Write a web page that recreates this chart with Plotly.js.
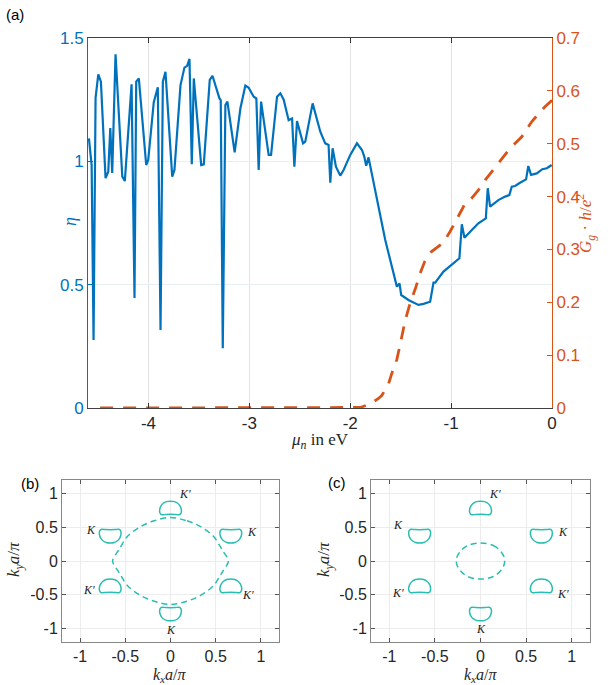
<!DOCTYPE html>
<html>
<head>
<meta charset="utf-8">
<script src="https://cdn.plot.ly/plotly-3.0.1.min.js"></script>
<style>html,body{margin:0;padding:0;background:#fff;}#chart{width:608px;height:685px;}</style>
</head>
<body>
<div id="chart"></div>
<script>
// ---- Panel (a): eta (left axis) ----
const muEta = [-4.591,-4.564,-4.545,-4.525,-4.498,-4.472,-4.426,-4.399,-4.379,-4.360,-4.327,-4.260,-4.235,-4.168,-4.139,-4.122,-4.096,-4.023,-4.003,-3.948,-3.908,-3.881,-3.858,-3.832,-3.765,-3.743,-3.683,-3.644,-3.617,-3.594,-3.571,-3.551,-3.478,-3.452,-3.393,-3.366,-3.297,-3.284,-3.264,-3.238,-3.218,-3.146,-3.089,-3.040,-3.007,-2.957,-2.931,-2.908,-2.884,-2.809,-2.785,-2.726,-2.693,-2.660,-2.611,-2.577,-2.554,-2.528,-2.468,-2.446,-2.373,-2.297,-2.248,-2.215,-2.198,-2.175,-2.142,-2.099,-2.066,-2.000,-1.934,-1.884,-1.861,-1.842,-1.819,-1.779,-1.720,-1.653,-1.604,-1.538,-1.512,-1.495,-1.423,-1.324,-1.274,-1.208,-1.175,-1.158,-1.076,-0.993,-0.918,-0.894,-0.868,-0.795,-0.730,-0.656,-0.637,-0.614,-0.532,-0.465,-0.423,-0.399,-0.366,-0.317,-0.257,-0.235,-0.208,-0.151,-0.096,-0.052,-0.003];
const eta = [1.093,0.985,0.276,1.257,1.353,1.323,0.932,0.958,1.135,0.953,1.434,0.938,0.920,1.312,0.446,1.323,1.336,0.985,1.005,1.240,1.300,0.316,1.323,1.363,0.938,0.965,1.309,1.380,1.387,1.415,0.988,1.336,0.985,0.988,1.330,1.347,1.255,1.248,0.242,1.228,1.242,1.036,1.215,1.307,1.298,1.262,1.255,0.965,1.242,1.026,1.026,1.262,1.276,1.250,1.167,1.174,0.978,1.163,1.073,1.080,1.235,1.120,1.073,1.066,0.913,1.053,0.978,0.942,0.965,1.026,1.073,1.046,1.019,0.982,1.016,0.931,0.816,0.681,0.600,0.492,0.505,0.458,0.438,0.418,0.422,0.431,0.508,0.508,0.553,0.580,0.607,0.745,0.690,0.722,0.749,0.769,0.891,0.816,0.843,0.857,0.863,0.897,0.900,0.913,0.927,0.981,0.945,0.951,0.968,0.972,0.985];

// ---- Panel (a): G_g h/e^2 (right axis) ----
const muG = [-4.48,-3.5,-2.5,-1.90,-1.80,-1.72,-1.686,-1.62,-1.587,-1.538,-1.50,-1.455,-1.406,-1.356,-1.307,-1.26,-1.20,-1.12,-1.076,-1.01,-0.944,-0.894,-0.86,-0.80,-0.73,-0.663,-0.532,-0.416,-0.30,-0.20,-0.07,0];
const Gg = [0,0,0,0.001,0.008,0.018,0.024,0.046,0.066,0.092,0.125,0.166,0.199,0.225,0.255,0.278,0.295,0.306,0.313,0.334,0.356,0.375,0.388,0.396,0.412,0.431,0.463,0.491,0.513,0.542,0.570,0.582];

const xTicksA = [-4,-3,-2,-1,0];
const xTickTextA = ['-4','-3','-2','-1','0'];
const yTicksL = [0,0.5,1,1.5];
const yTickTextL = ['0','0.5','1','1.5'];
const yTicksR = [0,0.1,0.2,0.3,0.4,0.5,0.6,0.7];
const yTickTextR = ['0','0.1','0.2','0.3','0.4','0.5','0.6','0.7'];

// ---- Panels (b),(c): Fermi pockets ----
// outline of a K' pocket relative to its valley point
const pocketDx = [0,0.045,0.08,0.105,0.118,0.12,0.112,0.095,0.05,0,-0.05,-0.095,-0.112,-0.12,-0.118,-0.105,-0.08,-0.045,0];
const pocketDy = [0.117,0.11,0.085,0.045,0.0,-0.04,-0.07,-0.085,-0.08,-0.078,-0.08,-0.085,-0.07,-0.04,0.0,0.045,0.085,0.11,0.117];
const valleyKx = [0,-0.667,0.667];      // K points
const valleyKy = [-0.77,0.385,0.385];
const valleyKpx = [0,-0.667,0.667];     // K' points
const valleyKpy = [0.77,-0.385,-0.385];
// central dashed ring, first quadrant (top -> right)
const ringBx = [0,0.181,0.328,0.475,0.548,0.581,0.64];
const ringBy = [0.644,0.595,0.512,0.366,0.22,0.146,0];
const ringCx = [0,0.14,0.21,0.255,0.265];
const ringCy = [0.268,0.23,0.16,0.07,0];
const kTicks = [-1,-0.5,0,0.5,1];
const kTickText = ['-1','-0.5','0','0.5','1'];
const labelText = ['<i>K′</i>','<i>K</i>','<i>K</i>','<i>K′</i>','<i>K′</i>','<i>K</i>'];
const labelBx = [0.163,-0.883,0.897,-0.90,0.853,0];
const labelBy = [0.99,0.454,0.425,-0.425,-0.50,-1.015];
const labelCx = [0.159,-0.908,0.90,-0.90,0.908,0];
const labelCy = [0.99,0.537,0.425,-0.473,-0.488,-1.006];

const BLUE = '#0072BD', ORANGE = '#D95319', TEAL = '#2ABDB1';

function pockets(){
  const xs=[], ys=[];
  for(let i=0;i<valleyKpx.length;i++){
    for(let j=0;j<pocketDx.length;j++){ xs.push(valleyKpx[i]+pocketDx[j]); ys.push(valleyKpy[i]+pocketDy[j]); }
    xs.push(null); ys.push(null);
  }
  for(let i=0;i<valleyKx.length;i++){
    for(let j=0;j<pocketDx.length;j++){ xs.push(valleyKx[i]+pocketDx[j]); ys.push(valleyKy[i]-pocketDy[j]); }
    xs.push(null); ys.push(null);
  }
  return {xs, ys};
}
function fullRing(qx,qy){
  const xs=[], ys=[];
  const n=qx.length;
  for(let i=0;i<n;i++){ xs.push(qx[i]); ys.push(qy[i]); }
  for(let i=n-2;i>=0;i--){ xs.push(qx[i]); ys.push(-qy[i]); }
  for(let i=1;i<n;i++){ xs.push(-qx[i]); ys.push(-qy[i]); }
  for(let i=n-2;i>=0;i--){ xs.push(-qx[i]); ys.push(qy[i]); }
  return {xs, ys};
}
const P = pockets();
const RB = fullRing(ringBx, ringBy);
const RC = fullRing(ringCx, ringCy);

const traces = [
  {x: muEta, y: eta, type:'scatter', mode:'lines', xaxis:'x', yaxis:'y', line:{color:BLUE, width:2.2}},
  {x: muG, y: Gg, type:'scatter', mode:'lines', xaxis:'x', yaxis:'y2', cliponaxis:false, line:{color:ORANGE, width:2.8, dash:'13px,10px'}},
  {x: P.xs, y: P.ys, type:'scatter', mode:'lines', xaxis:'x3', yaxis:'y3', connectgaps:false, line:{color:TEAL, width:1.5, shape:'spline', smoothing:1}},
  {x: RB.xs, y: RB.ys, type:'scatter', mode:'lines', xaxis:'x3', yaxis:'y3', line:{color:TEAL, width:1.5, shape:'spline', smoothing:1, dash:'6px,4px'}},
  {x: P.xs, y: P.ys, type:'scatter', mode:'lines', xaxis:'x4', yaxis:'y4', connectgaps:false, line:{color:TEAL, width:1.5, shape:'spline', smoothing:1}},
  {x: RC.xs, y: RC.ys, type:'scatter', mode:'lines', xaxis:'x4', yaxis:'y4', line:{color:TEAL, width:1.5, shape:'spline', smoothing:1, dash:'6px,4px'}}
];

const W=608, H=685;
const px = v => v/W, py = v => 1 - v/H;
const SANS = 'Liberation Sans, Arial, sans-serif';
const SERIF = 'Liberation Serif, Times New Roman, serif';
const GRID = '#e3e3e3';

function kAxis(domain, anchor){
  return {domain, anchor, range:[-1.2,1.2], tickvals:kTicks, ticktext:kTickText, ticks:'inside', ticklen:4,
    tickcolor:'#555', showline:true, linecolor:'#888', linewidth:1, mirror:'ticks', showgrid:true, gridcolor:'#ececec',
    zeroline:false, tickfont:{family:SANS, size:16, color:'#262626'}, fixedrange:true};
}
function ann(text, x, y, font, extra){
  return Object.assign({text, x, y, xref:'paper', yref:'paper', showarrow:false, xanchor:'center', yanchor:'middle', font}, extra||{});
}

const annotations = [
  ann('(a)', px(15), py(15), {family:SANS, size:15, color:'#000'}),
  ann('(b)', px(30), py(483), {family:SANS, size:15, color:'#000'}),
  ann('(c)', px(337), py(482), {family:SANS, size:15, color:'#000'}),
  ann('<i>μ</i><sub><i>n</i></sub> in eV', px(320), py(441), {family:SERIF, size:17, color:'#262626'}),
  ann('<i>η</i>', px(70), py(222), {family:SERIF, size:18, color:BLUE}, {textangle:-90}),
  ann('<i>G<sub>g</sub></i> · <i>h</i>/<i>e</i><sup>2</sup>', px(585), py(224), {family:SERIF, size:17, color:ORANGE}, {textangle:-90}),
  ann('<i>k<sub>x</sub>a</i>/<i>π</i>', px(170), py(675), {family:SERIF, size:16, color:'#262626'}),
  ann('<i>k<sub>y</sub>a</i>/<i>π</i>', px(15), py(560), {family:SERIF, size:17, color:'#262626'}, {textangle:-90}),
  ann('<i>k<sub>x</sub>a</i>/<i>π</i>', px(481), py(675), {family:SERIF, size:16, color:'#262626'}),
  ann('<i>k<sub>y</sub>a</i>/<i>π</i>', px(325), py(560), {family:SERIF, size:17, color:'#262626'}, {textangle:-90})
];
for(let i=0;i<labelText.length;i++){
  annotations.push({text:labelText[i], x:labelBx[i], y:labelBy[i], xref:'x3', yref:'y3', showarrow:false, xanchor:'center', yanchor:'middle', font:{family:SERIF, size:12, color:'#222'}});
  annotations.push({text:labelText[i], x:labelCx[i], y:labelCy[i], xref:'x4', yref:'y4', showarrow:false, xanchor:'center', yanchor:'middle', font:{family:SERIF, size:12, color:'#222'}});
}

const layout = {
  width:W, height:H, margin:{l:0,r:0,t:0,b:0}, showlegend:false,
  paper_bgcolor:'#fff', plot_bgcolor:'#fff', font:{family:SANS},
  xaxis:{domain:[px(88),px(552)], anchor:'y', range:[-4.6,0], tickvals:xTicksA, ticktext:xTickTextA,
    ticks:'inside', ticklen:5, tickcolor:'#333', showline:true, linecolor:'#404040', linewidth:1, mirror:'ticks',
    showgrid:true, gridcolor:GRID, zeroline:false, tickfont:{family:SANS, size:17, color:'#262626'}, fixedrange:true},
  yaxis:{domain:[py(408),py(38)], anchor:'x', range:[0,1.5], tickvals:yTicksL, ticktext:yTickTextL,
    ticks:'inside', ticklen:5, tickcolor:BLUE, showline:true, linecolor:BLUE, linewidth:1,
    showgrid:true, gridcolor:'#e6eef6', zeroline:false, tickfont:{family:SANS, size:17, color:BLUE}, fixedrange:true},
  yaxis2:{overlaying:'y', side:'right', anchor:'x', range:[0,0.7], tickvals:yTicksR, ticktext:yTickTextR,
    ticks:'inside', ticklen:5, tickcolor:ORANGE, showline:true, linecolor:ORANGE, linewidth:1,
    showgrid:false, zeroline:false, tickfont:{family:SANS, size:17, color:ORANGE}, fixedrange:true},
  xaxis3: kAxis([px(62),px(279)], 'y3'),
  yaxis3: kAxis([py(642),py(480)], 'x3'),
  xaxis4: kAxis([px(371),px(590)], 'y4'),
  yaxis4: kAxis([py(642),py(480)], 'x4'),
  annotations
};

Plotly.newPlot('chart', traces, layout, {staticPlot:true, displayModeBar:false});
</script>
</body>
</html>
